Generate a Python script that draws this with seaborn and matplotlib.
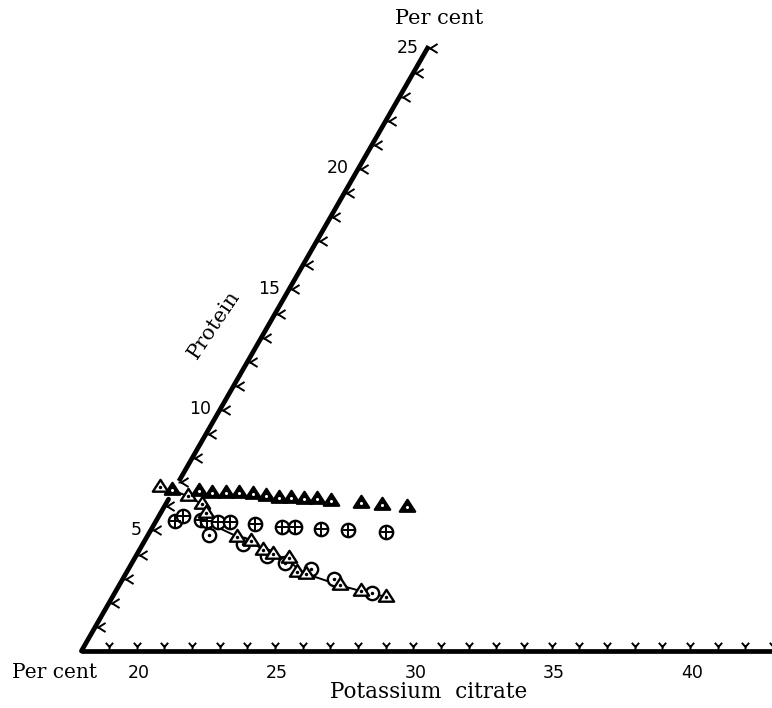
import numpy as np
import pandas as pd
import matplotlib
matplotlib.use("Agg")
import matplotlib.pyplot as plt
import matplotlib.transforms as mtransforms
from matplotlib.path import Path
import seaborn as sns

# ---- data: potassium citrate (per cent) vs protein (per cent) ----
solid_tri_citrate = [17.94, 18.92, 19.45, 19.95, 20.42, 20.94, 21.44, 21.97,
                     22.42, 22.89, 23.38, 23.89, 25.03, 25.85, 26.80]
solid_tri_protein = [6.68, 6.65, 6.57, 6.57, 6.54, 6.51, 6.43, 6.34,
                     6.34, 6.31, 6.29, 6.24, 6.13, 6.06, 5.96]

cross_circle_citrate = [18.67, 18.86, 19.61, 19.83, 20.25, 20.70, 21.63,
                        22.68, 23.14, 24.13, 25.12, 26.55]
cross_circle_protein = [5.39, 5.60, 5.44, 5.39, 5.37, 5.35, 5.26,
                        5.16, 5.16, 5.07, 5.02, 4.93]

open_tri_citrate = [17.44, 18.64, 19.32, 19.66, 21.25, 21.87, 22.47, 22.93,
                    23.56, 24.13, 24.52, 25.97, 26.88, 27.87]
open_tri_protein = [6.82, 6.42, 6.09, 5.71, 4.75, 4.55, 4.19, 4.02,
                    3.86, 3.29, 3.20, 2.73, 2.48, 2.25]

dot_circle_citrate = [20.18, 21.63, 22.72, 23.55, 24.62, 25.63, 27.31]
dot_circle_protein = [4.83, 4.45, 3.96, 3.65, 3.39, 3.00, 2.41]

# smooth curve drawn through the falling series
curve_citrate = [17.94, 18.64, 19.32, 19.66, 20.20, 21.25, 21.87, 22.47, 22.93,
                 23.56, 24.13, 24.52, 25.97, 26.88, 27.87]
curve_protein = [6.68, 6.42, 6.09, 5.71, 5.20, 4.75, 4.55, 4.19, 4.02,
                 3.80, 3.40, 3.20, 2.73, 2.48, 2.25]

citrate_origin = 18
citrate_ticks = list(range(19, 44))
citrate_labels = [20, 25, 30, 35, 40]
protein_ticks = list(range(1, 26))
protein_labels = [5, 10, 15, 20, 25]
protein_axis_top = 25.1
protein_axis_gap = (6.3, 7.05)

# ---- figure ----
W, H = 772, 708
fig = plt.figure(figsize=(W / 100, H / 100), dpi=100)
ax = fig.add_axes([0, 0, 1, 1])
sns.set_style("white")
ax.set_axis_off()
ax.set_xlim(15.058, 42.958)
ax.set_ylim(-2.365, 27.012)

# oblique (60 degree) protein axis: x' = citrate + 0.5 * protein
shear = 0.5
oblique = mtransforms.Affine2D().skew(np.arctan(shear), 0) + ax.transData

ink = "black"
AXLW = 3.4

# axes lines
ax.plot([citrate_origin, 44], [0, 0], color=ink, lw=AXLW,
        solid_capstyle="butt", transform=oblique)
ax.plot([citrate_origin, citrate_origin], [0, protein_axis_gap[0]], color=ink,
        lw=AXLW, solid_capstyle="round", transform=oblique)
ax.plot([citrate_origin, citrate_origin], [protein_axis_gap[1], protein_axis_top],
        color=ink, lw=AXLW, solid_capstyle="butt", transform=oblique)

# "Y" shaped tick marks
M, L = Path.MOVETO, Path.LINETO
y_tick = Path([(0, 0), (0, 0.52), (-0.42, 1.0), (0, 0.52), (0.42, 1.0)],
              [M, L, L, M, L])
k_tick = Path([(0, 0), (0.28, 0), (1.0, 0.45), (0.28, 0), (1.0, -0.45)],
              [M, L, L, M, L])
ax.plot(citrate_ticks, [0] * len(citrate_ticks), ls="none", marker=y_tick,
        ms=12.5, mec=ink, mfc="none", mew=1.4, transform=oblique)
ax.plot([citrate_origin] * len(protein_ticks), protein_ticks, ls="none",
        marker=k_tick, ms=14.5, mec=ink, mfc="none", mew=1.4, transform=oblique)

num_font = dict(family="DejaVu Sans", fontsize=12.5, color=ink)
for v in citrate_labels:
    ax.annotate(str(v), xy=(v, 0), xycoords=oblique, xytext=(1.5, -15.5),
                textcoords="offset points", ha="center", va="center", **num_font)
for v in protein_labels:
    ax.annotate(str(v), xy=(citrate_origin, v), xycoords=oblique,
                xytext=(-6.5, 0.5), textcoords="offset points",
                ha="right", va="center", **num_font)

# ---- data marks ----
tri = Path([(-1, -0.55), (1, -0.55), (0, 1.0), (-1, -0.55)],
           [M, L, L, Path.CLOSEPOLY])

solid = pd.DataFrame({"citrate": solid_tri_citrate, "protein": solid_tri_protein})
cross = pd.DataFrame({"citrate": cross_circle_citrate, "protein": cross_circle_protein})
opent = pd.DataFrame({"citrate": open_tri_citrate, "protein": open_tri_protein})
dotc = pd.DataFrame({"citrate": dot_circle_citrate, "protein": dot_circle_protein})
curve = pd.DataFrame({"citrate": curve_citrate, "protein": curve_protein})

sns.lineplot(data=curve, x="citrate", y="protein", sort=False, estimator=None,
             color=ink, lw=1.4, ax=ax, transform=oblique, zorder=2)

EW = 1.7
sns.scatterplot(data=cross, x="citrate", y="protein", marker="o", s=9.6 ** 2,
                facecolor="white", edgecolor=ink, linewidth=EW, ax=ax,
                transform=oblique, zorder=3)
sns.scatterplot(data=cross, x="citrate", y="protein", marker="+", s=9.2 ** 2,
                color=ink, linewidth=1.4, ax=ax, transform=oblique, zorder=4)

sns.scatterplot(data=dotc, x="citrate", y="protein", marker="o", s=9.6 ** 2,
                facecolor="white", edgecolor=ink, linewidth=EW, ax=ax,
                transform=oblique, zorder=3)
sns.scatterplot(data=dotc, x="citrate", y="protein", marker="o", s=2.5 ** 2,
                color=ink, linewidth=0, ax=ax, transform=oblique, zorder=4)

sns.scatterplot(data=opent, x="citrate", y="protein", marker=tri, s=11 ** 2,
                facecolor="white", edgecolor=ink, linewidth=EW, ax=ax,
                transform=oblique, zorder=5)
sns.scatterplot(data=opent, x="citrate", y="protein", marker="o", s=2.5 ** 2,
                color=ink, linewidth=0, ax=ax, transform=oblique, zorder=6)

sns.scatterplot(data=solid, x="citrate", y="protein", marker=tri, s=11 ** 2,
                facecolor=ink, edgecolor=ink, linewidth=EW, ax=ax,
                transform=oblique, zorder=5)
sns.scatterplot(data=solid, x="citrate", y="protein", marker="o", s=2.2 ** 2,
                color="white", linewidth=0, ax=ax, transform=oblique, zorder=6)

ax.set_xlim(15.058, 42.958)
ax.set_ylim(-2.365, 27.012)
ax.set_axis_off()

# ---- titles ----
word_font = dict(family="DejaVu Serif", color=ink)
fig.text(439 / W, 1 - 19 / H, "Per cent", ha="center", va="center",
         fontsize=15, **word_font)
fig.text(12 / W, 1 - 673 / H, "Per cent", ha="left", va="center",
         fontsize=14.5, **word_font)
fig.text(429 / W, 1 - 692 / H, "Potassium  citrate", ha="center", va="center",
         fontsize=15.5, **word_font)
fig.text(214 / W, 1 - 325 / H, "Protein", ha="center", va="center",
         rotation=56, rotation_mode="anchor", fontsize=15, **word_font)

fig.savefig("out.png", dpi=100, facecolor="white")
